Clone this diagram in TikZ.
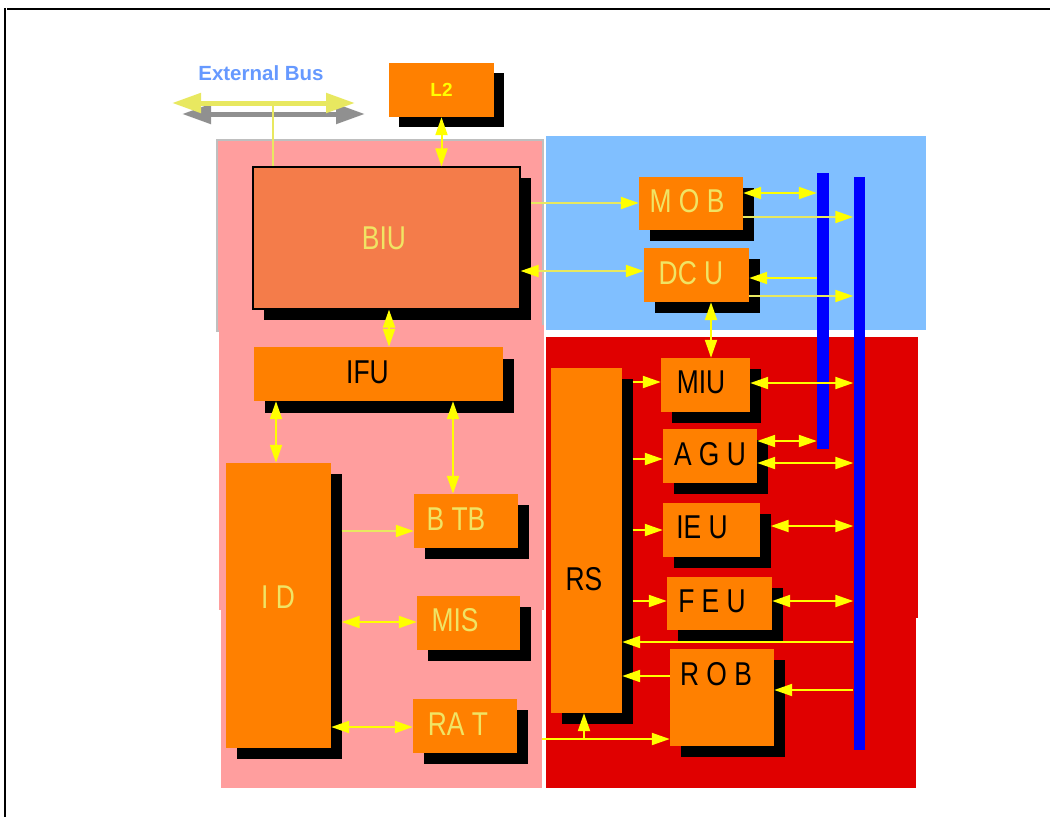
\documentclass[tikz,border=0pt]{standalone}
\usepackage{fontspec}
\setmainfont{Liberation Sans}
\newfontfamily\narrowsf[FakeStretch=0.8]{Liberation Sans}
\usepackage{tikz}
\usetikzlibrary{arrows.meta}
\definecolor{pinkarea}{RGB}{255,158,158}
\definecolor{bluearea}{RGB}{128,191,255}
\definecolor{redarea}{RGB}{224,0,0}
\definecolor{unitorange}{RGB}{255,128,0}
\definecolor{biuorange}{RGB}{244,124,74}
\definecolor{linkyel}{RGB}{255,255,0}
\definecolor{paleyel}{RGB}{232,232,96}
\definecolor{labelyel}{RGB}{240,228,100}
\definecolor{busblue}{RGB}{102,153,255}
\definecolor{busgray}{RGB}{144,144,144}

\begin{document}
\begin{tikzpicture}[x=1pt, y=-1pt,
  unit/.style={fill=unitorange, inner sep=0pt},
  shadowbox/.style={fill=black, inner sep=0pt},
  bar/.style={fill=blue, inner sep=0pt},
  ytxt/.style={text=labelyel, font=\narrowsf\fontsize{33}{33}\selectfont},
  ktxt/.style={text=black, font=\narrowsf\fontsize{33}{33}\selectfont},
  link/.style={draw=linkyel, line width=2pt, -{Triangle[length=18pt,width=12pt,color=linkyel]}},
  dlink/.style={draw=linkyel, line width=2pt, {Triangle[length=18pt,width=12pt,color=linkyel]}-{Triangle[length=18pt,width=12pt,color=linkyel]}},
  pale/.style={draw=paleyel},
  busarrow/.style={line width=5pt, {Triangle[length=29pt,width=19pt]}-{Triangle[length=29pt,width=19pt]}}]
  \useasboundingbox (0,0) rectangle (1050,817);
  \draw[line width=2pt] (7,9) -- (1050,9);
  \draw[line width=2pt] (5,8) -- (5,817);

  % areas
  \fill[pinkarea] (217,140) rectangle (543,331);
  \draw[black!25, line width=1.5pt] (217,140) rectangle (543,331);
  \fill[pinkarea] (219,325) rectangle (544,610);
  \fill[pinkarea] (221,600) rectangle (542,788);
  \fill[bluearea] (546,136) rectangle (926,330);
  \fill[redarea] (546,337) rectangle (918,618);
  \fill[redarea] (546,617) rectangle (916,788);

  % external bus
  \node[text=busblue, font=\bfseries\fontsize{20.5}{20.5}\selectfont] (extlbl) at (261,73) {External Bus};
  \coordinate (gyl) at (182,114);
  \coordinate (gyr) at (365,114);
  \coordinate (exl) at (172,103);
  \coordinate (exr) at (355,103);
  \coordinate (extap) at (273,103);
  \draw[busarrow, busgray] (gyl) -- (gyr);
  \draw[busarrow, paleyel] (exl) -- (exr);

  % units
  \node[shadowbox, minimum width=105pt, minimum height=54pt] (l2s) at (451.5,100) {};
  \node[unit, minimum width=105pt, minimum height=54pt, text=linkyel, font=\bfseries\fontsize{19}{19}\selectfont] (l2) at (441.5,90) {L2};
  \node[shadowbox, minimum width=267pt, minimum height=142pt] (biush) at (397.5,249) {};
  \node[unit, fill=biuorange, draw=black, line width=1.2pt, minimum width=267pt, minimum height=142pt, label={[ytxt, xshift=-2.5pt]center:BIU}] (biu) at (386.5,238) {};
  \node[shadowbox, minimum width=104pt, minimum height=53pt] (mobs) at (701.5,214) {};
  \node[unit, minimum width=104pt, minimum height=53pt, label={[ytxt, xshift=-4pt, yshift=2.5pt]center:M O B}] (mob) at (691,203.5) {};
  \node[shadowbox, minimum width=105pt, minimum height=54pt] (dcus) at (707,285.5) {};
  \node[unit, minimum width=105pt, minimum height=54pt, label={[ytxt, xshift=-5.5pt, yshift=2pt]center:DC U}] (dcu) at (696.5,275) {};
  \node[shadowbox, minimum width=249pt, minimum height=54pt] (ifus) at (389.5,385.5) {};
  \node[unit, minimum width=249pt, minimum height=54pt, label={[ktxt, xshift=-11pt, yshift=2pt]center:IFU}] (ifu) at (378.5,374) {};
  \node[shadowbox, minimum width=105pt, minimum height=285pt] (ids) at (289,616) {};
  \node[unit, minimum width=105pt, minimum height=285pt, label={[ytxt, xshift=-0.5pt, yshift=8.5pt]center:I D}] (id) at (278.5,605.5) {};
  \node[shadowbox, minimum width=104pt, minimum height=54pt] (btbs) at (476.5,531.5) {};
  \node[unit, minimum width=104pt, minimum height=54pt, label={[ytxt, xshift=-10pt, yshift=2pt]center:B TB}] (btb) at (466,521) {};
  \node[shadowbox, minimum width=103pt, minimum height=54pt] (miss) at (479,634) {};
  \node[unit, minimum width=103pt, minimum height=54pt, label={[ytxt, xshift=-13.5pt, yshift=3pt]center:MIS}] (mis) at (468.5,623) {};
  \node[shadowbox, minimum width=104pt, minimum height=54pt] (rats) at (475.5,736.5) {};
  \node[unit, minimum width=104pt, minimum height=54pt, label={[ytxt, xshift=-7pt, yshift=2pt]center:RA T}] (rat) at (465,726) {};
  \node[shadowbox, minimum width=71pt, minimum height=345pt] (rss) at (597,551) {};
  \node[unit, minimum width=71pt, minimum height=345pt, label={[ktxt, xshift=-2.5pt, yshift=-38.5pt]center:RS}] (rs) at (586.5,540.5) {};
  \node[shadowbox, minimum width=89pt, minimum height=54pt] (mius) at (716,395.5) {};
  \node[unit, minimum width=89pt, minimum height=54pt, label={[ktxt, xshift=-4.5pt, yshift=3pt]center:MIU}] (miu) at (705.5,385) {};
  \node[shadowbox, minimum width=94pt, minimum height=54pt] (agus) at (720.5,466.5) {};
  \node[unit, minimum width=94pt, minimum height=54pt, label={[ktxt, yshift=2pt]center:A G U}] (agu) at (710,456) {};
  \node[shadowbox, minimum width=97pt, minimum height=54pt] (ieus) at (722,540.5) {};
  \node[unit, minimum width=97pt, minimum height=54pt, label={[ktxt, xshift=-9.5pt, yshift=3pt]center:IE U}] (ieu) at (711.5,530) {};
  \node[shadowbox, minimum width=105pt, minimum height=53pt] (feus) at (730,614) {};
  \node[unit, minimum width=105pt, minimum height=53pt, label={[ktxt, xshift=-7.5pt, yshift=2.5pt]center:F E U}] (feu) at (719.5,603.5) {};
  \node[shadowbox, minimum width=104pt, minimum height=97pt] (robs) at (732.5,708) {};
  \node[unit, minimum width=104pt, minimum height=97pt, label={[ktxt, xshift=-6pt, yshift=23.5pt]center:R O B}] (rob) at (722,697.5) {};

  % buses
  \node[bar, minimum width=12pt, minimum height=276pt] (busa) at (823,311) {};
  \node[bar, minimum width=11pt, minimum height=573pt] (busb) at (859,463.5) {};

  % connectors
  \draw[pale, line width=1.5pt] (extap) -- (biu.north -| extap);
  \draw[dlink] (l2.south) -- (l2.south |- biu.north);
  \draw[link, pale] (biush.east |- 0,203) -- (mob.west |- 0,203);
  \draw[dlink, pale] (biu.east |- 0,271) -- (dcu.west |- 0,271);
  \draw[dlink] (mob.east |- 0,193) -- (busa.west |- 0,193);
  \draw[link, pale] (mob.east |- 0,217) -- (busb.west |- 0,217);
  \draw[link] (busa.west |- 0,278) -- (dcu.east |- 0,278);
  \draw[link, pale] (dcu.east |- 0,296) -- (busb.west |- 0,296);
  \draw[dlink] (dcu.south -| 711,0) -- (miu.north -| 711,0);
  \draw[dlink] (biu.south -| 389,0) -- (ifu.north -| 389,0);
  \draw[dlink] (ifu.south -| 276,0) -- (id.north -| 276,0);
  \draw[dlink] (ifu.south -| 453,0) -- (btb.north -| 453,0);
  \draw[link, pale] (ids.east |- 0,531) -- (btb.west |- 0,531);
  \draw[dlink] (ids.east |- 0,622) -- (mis.west |- 0,622);
  \draw[dlink] (id.east |- 0,727) -- (rat.west |- 0,727);
  \draw[link] (rss.east |- 0,382) -- (miu.west |- 0,382);
  \draw[dlink] (miu.east |- 0,383) -- (busb.west |- 0,383);
  \draw[link] (rss.east |- 0,459) -- (agu.west |- 0,459);
  \draw[dlink] (agu.east |- 0,441) -- (busa.west |- 0,441);
  \draw[dlink] (agu.east |- 0,463) -- (busb.west |- 0,463);
  \draw[link] (rss.east |- 0,530) -- (ieu.west |- 0,530);
  \draw[dlink] (ieus.east |- 0,526) -- (busb.west |- 0,526);
  \draw[link] (rss.east |- 0,601) -- (feu.west |- 0,601);
  \draw[dlink] (feu.east |- 0,601) -- (busb.west |- 0,601);
  \draw[link] (busb.west |- 0,642) -- (rs.east |- 0,642);
  \draw[link] (rob.west |- 0,676) -- (rs.east |- 0,676);
  \draw[link] (busb.west |- 0,690) -- (rob.east |- 0,690);
  \coordinate (robfeed) at (542,739);
  \coordinate (rsfeed) at (584,739);
  \draw[link] (robfeed) -- (rob.west |- robfeed);
  \draw[link] (rsfeed) -- (rs.south -| rsfeed);
\end{tikzpicture}
\end{document}
